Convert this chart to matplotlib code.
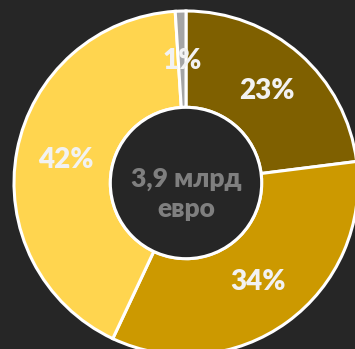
import matplotlib
matplotlib.use("Agg")
import matplotlib.pyplot as plt

# --- data ---
shares = [23, 34, 42, 1]
labels = ["23%", "34%", "42%", "1%"]
colors = ["#7F6000", "#CC9900", "#FFD54F", "#A5A5A5"]
center_text = "3,9 млрд\nевро"

BG = "#262626"
plt.rcParams["font.family"] = ["Lato", "DejaVu Sans"]

fig = plt.figure(figsize=(3.55, 3.49), dpi=100, facecolor=BG)
ax = fig.add_axes([0, 0, 1, 1])
ax.set_facecolor(BG)

# pixel-like coordinates so the ring can run off the edges like the original
cx, cy, R = 186, 166, 172
wedges, _, autotexts = ax.pie(
    shares,
    colors=colors,
    startangle=90,
    counterclock=False,
    center=(cx, cy),
    radius=R,
    autopct=lambda p: "",
    pctdistance=0.71,
    wedgeprops=dict(width=R * 0.56, edgecolor="white", linewidth=2.2),
    frame=True,
)
for t, lab in zip(autotexts, labels):
    t.set_text(lab)
    t.set_color("#F2F2F2")
    t.set_fontsize(20)
    t.set_fontweight("heavy")

# white rim round the hole
hole = plt.Circle((cx, cy), R * 0.44, facecolor=BG, edgecolor="white", linewidth=2.2)
ax.add_patch(hole)

ax.text(cx, cy - 11, center_text, ha="center", va="center", color="#7F7F7F",
        fontsize=19, fontweight="heavy", linespacing=1.3)

ax.set_xlim(0, 355)
ax.set_ylim(0, 349)
ax.set_aspect("equal")
ax.axis("off")

fig.savefig("out.png", dpi=100, facecolor=BG)
